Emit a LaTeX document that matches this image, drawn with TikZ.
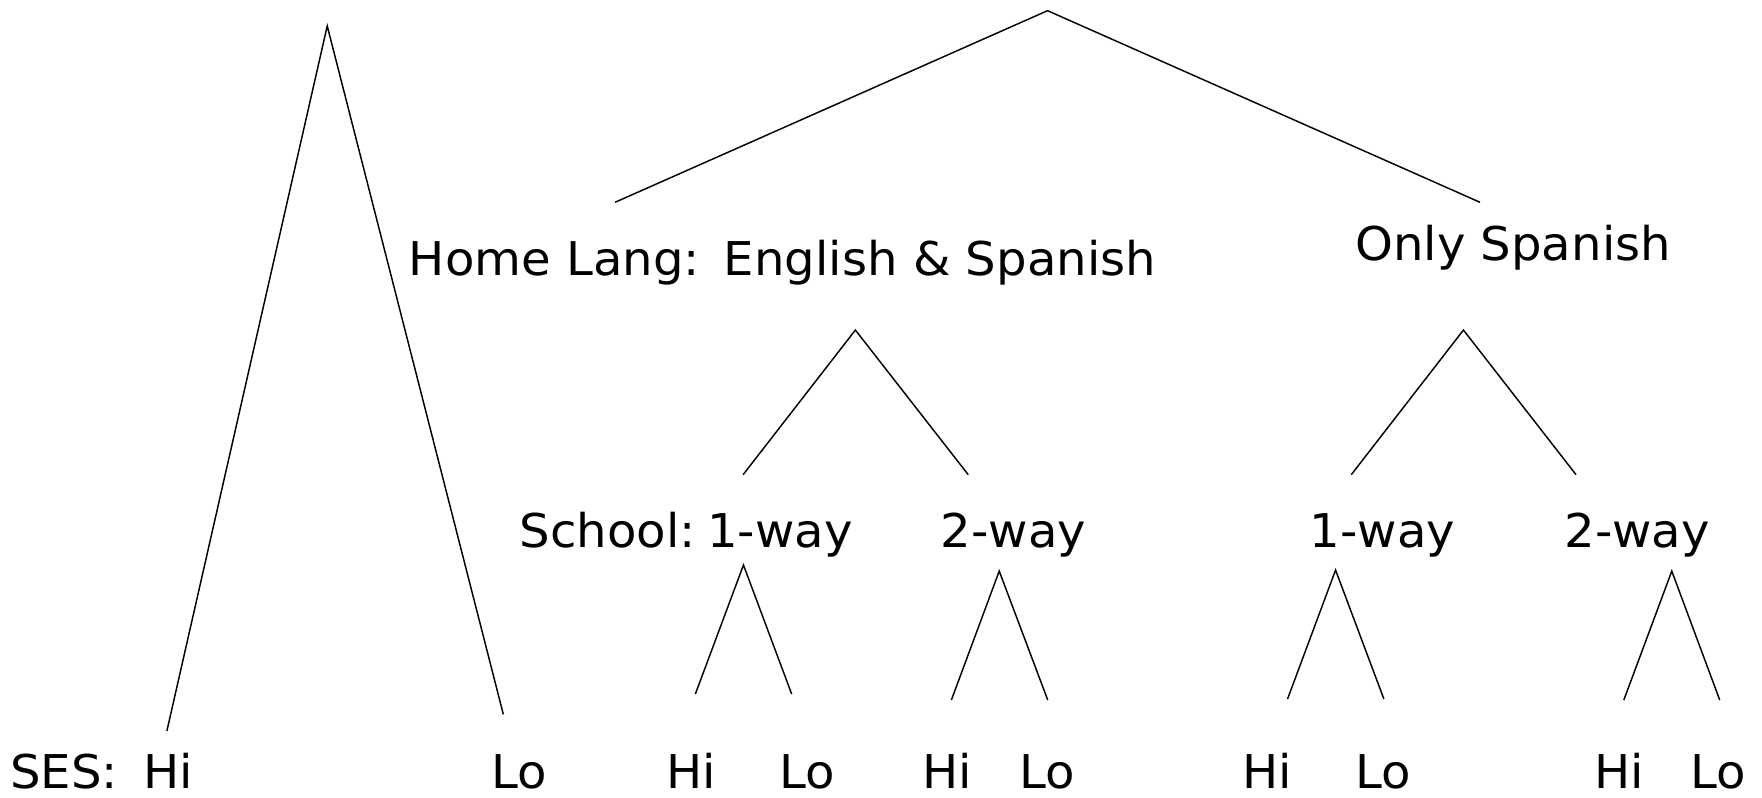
\documentclass[tikz,border=0pt]{standalone}
\usepackage{fontspec}
\setmainfont{DejaVu Sans}[FakeStretch=1.035]
\begin{document}
\begin{tikzpicture}[x=1pt,y=-1pt,
  branch/.style={line width=1.3pt, line cap=butt, line join=miter},
  lbl/.style={inner sep=0pt, anchor=base, font=\fontsize{41.4}{48}\selectfont}]
\useasboundingbox (0,0) rectangle (1568,710);

% --- tree branches (free-standing V shapes) ---
% SES split over the whole sample
\coordinate (ses-top) at (291.2,23.1);
\coordinate (ses-hi)  at (148.5,650.5);
\coordinate (ses-lo)  at (447.9,635.7);
\draw[branch] (ses-hi) -- (ses-top) -- (ses-lo);

% home language split
\coordinate (lang-top) at (932.2,9.5);
\coordinate (lang-es)  at (547.4,180);
\coordinate (lang-sp)  at (1317,180);
\draw[branch] (lang-es) -- (lang-top) -- (lang-sp);

% school split under each home language
\coordinate (esA-top) at (761.2,293.7);
\coordinate (esA-1)   at (661.3,422.4);
\coordinate (esA-2)   at (861.6,422.4);
\draw[branch] (esA-1) -- (esA-top) -- (esA-2);

\coordinate (spA-top) at (1302.3,293.7);
\coordinate (spA-1)   at (1202.5,422.4);
\coordinate (spA-2)   at (1402.5,422.4);
\draw[branch] (spA-1) -- (spA-top) -- (spA-2);

% SES split under each school type
\coordinate (b1-top) at (661.6,502.8);
\coordinate (b1-hi)  at (618.8,617.6);
\coordinate (b1-lo)  at (704.5,617.6);
\draw[branch] (b1-hi) -- (b1-top) -- (b1-lo);

\coordinate (b2-top) at (889.2,508.2);
\coordinate (b2-hi)  at (846.6,623);
\coordinate (b2-lo)  at (932.4,623);
\draw[branch] (b2-hi) -- (b2-top) -- (b2-lo);

\coordinate (b3-top) at (1188.5,507.3);
\coordinate (b3-hi)  at (1145.8,622);
\coordinate (b3-lo)  at (1231.5,622);
\draw[branch] (b3-hi) -- (b3-top) -- (b3-lo);

\coordinate (b4-top) at (1487.7,508.2);
\coordinate (b4-hi)  at (1445,623);
\coordinate (b4-lo)  at (1530.4,623);
\draw[branch] (b4-hi) -- (b4-top) -- (b4-lo);

% --- labels ---
\node[lbl] (homelbl) at (493.5,245)  {Home Lang:};
\node[lbl] (engsp)   at (836.5,245)  {English \& Spanish};
\node[lbl] (onlysp)  at (1346.5,231.4) {Only Spanish};

\node[lbl] (schlbl)  at (541,487.4)    {School:};
\node[lbl] (w1a)     at (694,487.4)    {1-way};
\node[lbl] (w2a)     at (901.8,487.4)  {2-way};
\node[lbl] (w1b)     at (1230.3,487.4) {1-way};
\node[lbl] (w2b)     at (1457,487.4)   {2-way};

\node[lbl] (seslbl)  at (57,701.5)     {SES:};
\node[lbl] (hi0)     at (150,701.5)    {Hi};
\node[lbl] (lo0)     at (462.3,701.5)  {Lo};
\node[lbl] (hi1)     at (615.3,701.5)  {Hi};
\node[lbl] (lo1)     at (718,701.5)    {Lo};
\node[lbl] (hi2)     at (842.9,701.5)  {Hi};
\node[lbl] (lo2)     at (931.6,701.5)  {Lo};
\node[lbl] (hi3)     at (1127.4,701.5) {Hi};
\node[lbl] (lo3)     at (1230.6,701.5) {Lo};
\node[lbl] (hi4)     at (1440.8,701.5) {Hi};
\node[lbl] (lo4)     at (1529.3,701.5) {Lo};
\end{tikzpicture}
\end{document}
